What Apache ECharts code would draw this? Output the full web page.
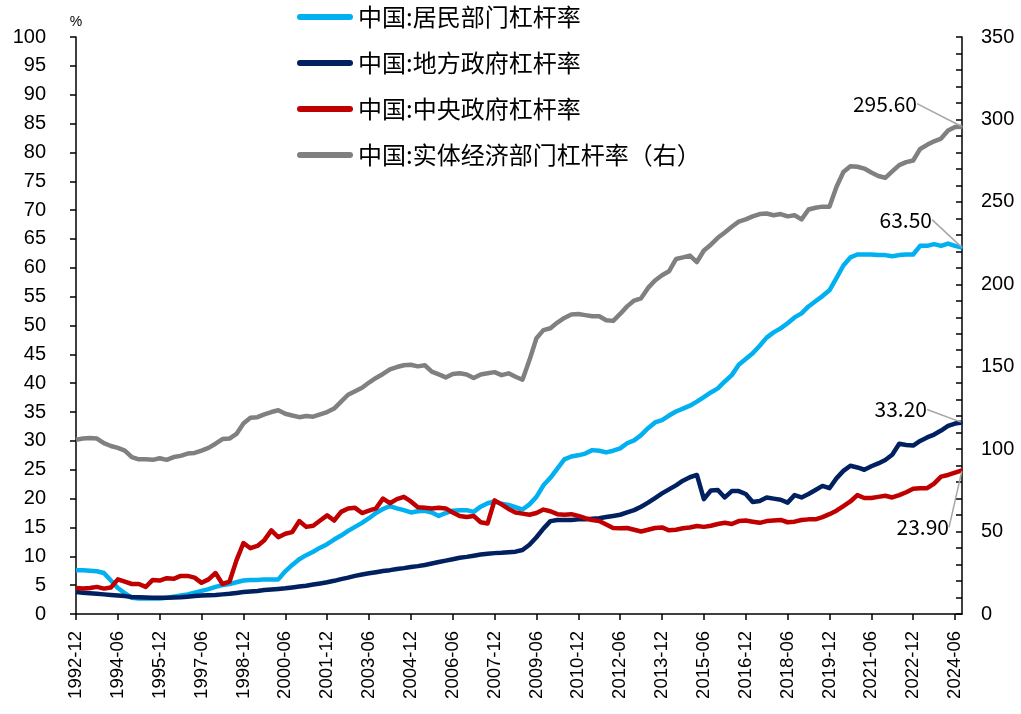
<!DOCTYPE html>
<html>
<head>
<meta charset="utf-8">
<script src="https://cdn.jsdelivr.net/npm/echarts@6/dist/echarts.min.js"></script>
<style>
  html, body { margin: 0; padding: 0; background: #fff; }
  #chart { width: 1021px; height: 714px; }
</style>
</head>
<body>
<div id="chart"></div>
<script>
// quarterly, 1992-12 .. 2024-09
const categories = []
for (let y = 1992, q = 4; categories.length < 128; q++) {
  if (q > 4) { q = 1; y++ }
  categories.push(y + '-' + String(q * 3).padStart(2, '0'))
}

const seriesNames = ['中国:居民部门杠杆率', '中国:地方政府杠杆率', '中国:中央政府杠杆率', '中国:实体经济部门杠杆率（右）']
const colors = ['#00B0F0', '#002060', '#C00000', '#808080']
const endLabels = ['63.50', '33.20', '23.90', '295.60']

const household = [
  7.6, 7.6, 7.5, 7.4, 7.1, 5.8, 4.5, 3.6, 2.8, 2.7,
  2.7, 2.7, 2.7, 2.8, 3.0, 3.2, 3.4, 3.7, 4.0, 4.3,
  4.7, 5.0, 5.2, 5.5, 5.8, 5.9, 5.9, 6.0, 6.0, 6.0,
  7.4, 8.5, 9.5, 10.2, 10.8, 11.5, 12.1, 12.9, 13.6, 14.4,
  15.1, 15.8, 16.6, 17.5, 18.2, 18.7, 18.3, 18.0, 17.6, 17.8,
  17.9, 17.6, 17.0, 17.5, 17.9, 18.0, 18.0, 17.7, 18.6, 19.2,
  19.5, 19.1, 18.9, 18.5, 18.1, 19.0, 20.3, 22.3, 23.6, 25.2,
  26.8, 27.3, 27.5, 27.8, 28.4, 28.3, 28.0, 28.3, 28.7, 29.6,
  30.1, 31.0, 32.2, 33.2, 33.6, 34.4, 35.1, 35.6, 36.1, 36.8,
  37.6, 38.4, 39.1, 40.3, 41.4, 43.2, 44.2, 45.2, 46.5, 47.9,
  48.8, 49.5, 50.4, 51.4, 52.1, 53.3, 54.2, 55.1, 56.1, 58.2,
  60.4, 61.8, 62.3, 62.3, 62.3, 62.2, 62.2, 62.0, 62.2, 62.3,
  62.3, 63.8, 63.8, 64.1, 63.8, 64.2, 63.8, 63.5
]

const localGov = [
  3.8, 3.7, 3.6, 3.5, 3.4, 3.3, 3.2, 3.1, 2.95, 2.9,
  2.85, 2.8, 2.8, 2.8, 2.85, 2.9, 3.0, 3.1, 3.2, 3.25,
  3.3, 3.4, 3.5, 3.65, 3.8, 3.9, 4.0, 4.15, 4.25, 4.35,
  4.45, 4.6, 4.75, 4.9, 5.1, 5.3, 5.5, 5.75, 6.05, 6.3,
  6.6, 6.85, 7.05, 7.25, 7.45, 7.6, 7.8, 7.95, 8.15, 8.3,
  8.5, 8.75, 9.0, 9.25, 9.5, 9.75, 9.9, 10.1, 10.3, 10.45,
  10.55, 10.6, 10.7, 10.8, 11.1, 12.0, 13.3, 14.8, 16.1, 16.3,
  16.3, 16.3, 16.4, 16.4, 16.5, 16.6, 16.8, 17.0, 17.2, 17.6,
  18.0, 18.6, 19.3, 20.1, 20.9, 21.6, 22.3, 23.1, 23.7, 24.1,
  19.9, 21.4, 21.5, 20.2, 21.3, 21.3, 20.8, 19.4, 19.6, 20.2,
  20.0, 19.8, 19.3, 20.6, 20.2, 20.8, 21.5, 22.2, 21.8, 23.5,
  24.8, 25.7, 25.4, 25.0, 25.6, 26.1, 26.7, 27.6, 29.5, 29.3,
  29.2, 30.0, 30.6, 31.1, 31.8, 32.6, 33.0, 33.2
]

const centralGov = [
  4.5, 4.4, 4.5, 4.7, 4.4, 4.6, 6.0, 5.6, 5.2, 5.2,
  4.7, 5.9, 5.8, 6.2, 6.1, 6.6, 6.6, 6.3, 5.4, 6.0,
  7.1, 5.2, 5.6, 9.3, 12.3, 11.4, 11.8, 12.8, 14.5, 13.3,
  13.9, 14.2, 16.1, 15.1, 15.3, 16.2, 17.1, 16.2, 17.7, 18.3,
  18.4, 17.5, 17.9, 18.3, 20.0, 19.2, 19.9, 20.3, 19.5, 18.5,
  18.4, 18.3, 18.4, 18.3, 17.6, 17.0, 16.8, 17.0, 15.9, 15.7,
  19.7, 19.0, 18.2, 17.6, 17.4, 17.2, 17.5, 18.1, 17.8, 17.3,
  17.2, 17.3, 17.0, 16.6, 16.3, 16.1, 15.5, 14.9, 14.85, 14.9,
  14.6, 14.3, 14.6, 14.9, 15.0, 14.5, 14.6, 14.85, 15.0, 15.25,
  15.1, 15.3, 15.6, 15.8, 15.6, 16.1, 16.2, 16.0, 15.8, 16.1,
  16.2, 16.3, 15.9, 16.0, 16.3, 16.4, 16.4, 16.8, 17.3, 17.9,
  18.7, 19.5, 20.6, 20.1, 20.1, 20.3, 20.5, 20.2, 20.6, 21.1,
  21.7, 21.8, 21.8, 22.6, 23.8, 24.1, 24.5, 24.9
]

// right axis
const realEconomy = [
  105.7, 106.4, 106.8, 106.4, 103.6, 101.9, 100.8, 99.1, 95.2, 93.8,
  93.8, 93.5, 94.5, 93.5, 95.2, 95.9, 97.3, 97.7, 99.1, 100.8,
  103.3, 106.1, 106.4, 109.2, 115.5, 119.0, 119.4, 121.1, 122.5, 123.6,
  121.5, 120.4, 119.4, 120.1, 119.7, 121.1, 122.5, 124.6, 128.8, 133.0,
  135.1, 137.2, 140.4, 143.2, 145.6, 148.4, 149.8, 150.9, 151.2, 150.2,
  150.9, 147.0, 145.3, 143.5, 145.6, 146.0, 145.3, 143.2, 145.3, 146.0,
  146.7, 144.9, 146.0, 143.9, 142.1, 154.0, 167.3, 172.2, 173.3, 176.8,
  179.6, 181.7, 182.0, 181.3, 180.6, 180.6, 178.2, 177.8, 182.0, 186.6,
  190.1, 191.5, 197.8, 202.3, 205.5, 207.9, 215.3, 216.3, 217.4, 213.5,
  220.5, 224.0, 228.2, 231.4, 234.9, 238.0, 239.4, 241.2, 242.6, 242.9,
  241.9, 242.6, 241.2, 241.9, 239.4, 245.4, 246.4, 247.1, 247.1, 259.0,
  268.1, 271.6, 271.3, 270.2, 267.8, 265.7, 264.6, 268.5, 272.3, 274.1,
  275.1, 282.1, 284.6, 286.7, 288.4, 293.3, 295.4, 295.6
]

// label offsets from the last point
const labelShift = [[-29, -28], [-34, -13], [-12, 57], [-44, -23]]

const values = [household, localGov, centralGov, realEconomy]
const last = categories.length - 1
const axisFont = 'Liberation Sans, Arial, sans-serif'
const cjkFont = 'Noto Sans CJK SC, sans-serif'

const chart = echarts.init(document.getElementById('chart'), null, { renderer: 'canvas' })

const series = values.map((vals, k) => ({
  name: seriesNames[k],
  type: 'line',
  yAxisIndex: k === 3 ? 1 : 0,
  showSymbol: true,
  showAllSymbol: true,
  symbol: 'none',
  lineStyle: { width: 4.5, color: colors[k], join: 'round' },
  itemStyle: { color: colors[k] },
  emphasis: { disabled: true },
  labelLayout: (p) => (p.dataIndex === last ? { dx: labelShift[k][0], dy: labelShift[k][1] } : null),
  data: vals.map((v, i) => i !== last ? v : {
    value: v,
    symbol: 'circle',
    symbolSize: 2,
    label: {
      show: true,
      position: 'left',
      distance: 0,
      formatter: endLabels[k],
      color: '#000',
      fontSize: 21,
      fontFamily: cjkFont,
    },
    labelLine: { show: true, lineStyle: { color: '#A6A6A6', width: 1.5 } },
  }),
}))

chart.setOption({
  animation: false,
  backgroundColor: '#fff',
  grid: { left: 76, right: 59, top: 37, bottom: 100, containLabel: false },
  legend: {
    orient: 'vertical',
    left: 297,
    top: 5,
    padding: 0,
    itemWidth: 56,
    itemHeight: 6,
    itemGap: 22,
    icon: 'path://M3,0 H53 A3,3 0 0 1 53,6 H3 A3,3 0 0 1 3,0 Z',
    textStyle: { fontSize: 24, fontFamily: cjkFont, color: '#000', lineHeight: 24 },
    data: seriesNames,
  },
  xAxis: {
    type: 'category',
    data: categories,
    boundaryGap: false,
    axisLine: { lineStyle: { color: '#000', width: 1.5 } },
    axisTick: { interval: 5, length: 6, lineStyle: { color: '#000', width: 1.5 } },
    axisLabel: {
      interval: 5,
      rotate: 90,
      margin: 17,
      fontSize: 18.5,
      fontFamily: axisFont,
      color: '#000',
    },
    splitLine: { show: false },
  },
  yAxis: [
    {
      type: 'value',
      min: 0,
      max: 100,
      interval: 5,
      name: '%',
      nameLocation: 'end',
      nameGap: 8,
      nameTextStyle: { fontSize: 14, fontFamily: axisFont, color: '#000', align: 'center' },
      axisLine: { show: true, lineStyle: { color: '#000', width: 1.5 } },
      axisTick: { show: true, length: 6, lineStyle: { color: '#000', width: 1.5 } },
      axisLabel: { margin: 30, fontSize: 20, fontFamily: axisFont, color: '#000' },
      splitLine: { show: false },
    },
    {
      type: 'value',
      min: 0,
      max: 350,
      interval: 10,
      position: 'right',
      axisLine: { show: true, lineStyle: { color: '#000', width: 1.5 } },
      axisTick: { show: true, inside: true, length: 6, lineStyle: { color: '#000', width: 1.5 } },
      axisLabel: {
        margin: 19,
        fontSize: 20,
        fontFamily: axisFont,
        color: '#000',
        formatter: (v) => (v % 50 === 0 ? String(v) : ''),
      },
      splitLine: { show: false },
    },
  ],
  series,
})
</script>
</body>
</html>
